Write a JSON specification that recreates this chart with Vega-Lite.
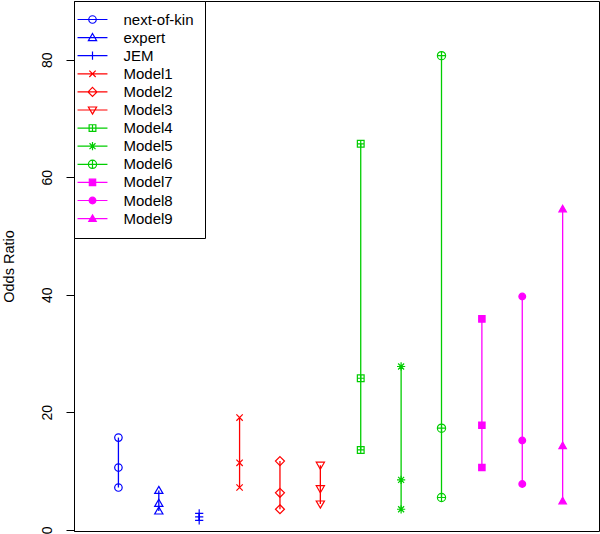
{
  "$schema": "https://vega.github.io/schema/vega-lite/v6.json",
  "width": 525,
  "height": 530,
  "autosize": {"type": "none"},
  "padding": {"left": 74, "top": 1, "right": 1, "bottom": 3},
  "background": "white",
  "config": {
    "font": "Liberation Sans",
    "view": {"stroke": "black", "strokeWidth": 1},
    "axis": {
      "grid": false,
      "domainColor": "black",
      "tickColor": "black",
      "labelColor": "black",
      "titleColor": "black",
      "labelFont": "Liberation Sans",
      "titleFont": "Liberation Sans"
    },
    "legend": {
      "orient": "top-left",
      "offset": 0,
      "padding": 11,
      "strokeColor": "black",
      "fillColor": "white",
      "symbolSize": 56,
      "symbolStrokeWidth": 1.2,
      "labelFontSize": 15,
      "labelFont": "Liberation Sans",
      "labelColor": "black",
      "labelOffset": 23.5,
      "rowPadding": 2.1,
      "title": null
    }
  },
  "data": {
    "values": [
      {"group": "next-of-kin", "lo": 7.2, "est": 10.6, "hi": 15.7},
      {"group": "expert", "lo": 3.2, "est": 4.5, "hi": 6.7},
      {"group": "JEM", "lo": 1.6, "est": 2.2, "hi": 2.8},
      {"group": "Model1", "lo": 7.2, "est": 11.4, "hi": 19.1},
      {"group": "Model2", "lo": 3.5, "est": 6.3, "hi": 11.7},
      {"group": "Model3", "lo": 4.4, "est": 7.0, "hi": 11.0},
      {"group": "Model4", "lo": 13.6, "est": 25.8, "hi": 65.7},
      {"group": "Model5", "lo": 3.5, "est": 8.5, "hi": 27.8},
      {"group": "Model6", "lo": 5.5, "est": 17.3, "hi": 80.7},
      {"group": "Model7", "lo": 10.6, "est": 17.8, "hi": 35.9},
      {"group": "Model8", "lo": 7.8, "est": 15.2, "hi": 39.7},
      {"group": "Model9", "lo": 4.9, "est": 14.3, "hi": 54.6}
    ]
  },
  "resolve": {
    "scale": {"shape": "independent", "stroke": "independent", "fill": "independent"},
    "legend": {"shape": "independent", "stroke": "independent", "fill": "independent"}
  },
  "layer": [
    {
      "mark": {"type": "rule", "strokeWidth": 1.3},
      "encoding": {
        "x": {
          "field": "group", "type": "nominal", "sort": null, "axis": null,
          "scale": {"type": "point", "padding": 1, "align": 0.55,
            "domain": ["next-of-kin","expert","JEM","Model1","Model2","Model3","Model4","Model5","Model6","Model7","Model8","Model9"]}
        },
        "y": {
          "field": "lo", "type": "quantitative", "title": "Odds Ratio",
          "scale": {"domain": [-0.2, 90], "nice": false, "zero": false},
          "axis": {
            "values": [0, 20, 40, 60, 80],
            "tickSize": 8,
            "labelFontSize": 14,
            "labelAngle": 270,
            "labelAlign": "center",
            "labelBaseline": "bottom",
            "labelPadding": 12,
            "titleFontSize": 14.5,
            "titleFontWeight": "normal",
            "titlePadding": 24
          }
        },
        "y2": {"field": "hi"},
        "stroke": {
          "field": "group", "type": "nominal", "legend": null,
          "scale": {
            "domain": ["next-of-kin","expert","JEM","Model1","Model2","Model3","Model4","Model5","Model6","Model7","Model8","Model9"],
            "range": ["#0000FF","#0000FF","#0000FF","#FF0000","#FF0000","#FF0000","#00CD00","#00CD00","#00CD00","#FF00FF","#FF00FF","#FF00FF"]
          }
        }
      }
    },
    {
      "transform": [{"fold": ["lo", "est", "hi"], "as": ["stat", "value"]}],
      "mark": {"type": "point", "opacity": 1, "strokeWidth": 1.2, "size": 56},
      "encoding": {
        "x": {"field": "group", "type": "nominal", "sort": null},
        "y": {"field": "value", "type": "quantitative"},
        "stroke": {
          "field": "group", "type": "nominal", "legend": null,
          "scale": {
            "domain": ["next-of-kin","expert","JEM","Model1","Model2","Model3","Model4","Model5","Model6","Model7","Model8","Model9"],
            "range": ["#0000FF","#0000FF","#0000FF","#FF0000","#FF0000","#FF0000","#00CD00","#00CD00","#00CD00","#FF00FF","#FF00FF","#FF00FF"]
          }
        },
        "fill": {
          "field": "group", "type": "nominal", "legend": null,
          "scale": {
            "domain": ["next-of-kin","expert","JEM","Model1","Model2","Model3","Model4","Model5","Model6","Model7","Model8","Model9"],
            "range": ["transparent","transparent","transparent","transparent","transparent","transparent","transparent","transparent","transparent","#FF00FF","#FF00FF","#FF00FF"]
          }
        },
        "shape": {
          "field": "group", "type": "nominal", "legend": null,
          "scale": {
            "domain": ["next-of-kin","expert","JEM","Model1","Model2","Model3","Model4","Model5","Model6","Model7","Model8","Model9"],
            "range": [
              "M-1,0A1,1,0,1,1,1,0A1,1,0,1,1,-1,0Z",
              "M0,-1.1L1.1,0.8L-1.1,0.8Z",
              "M-1.1,0H1.1M0,-1.1V1.1",
              "M-0.85,-0.85L0.85,0.85M-0.85,0.85L0.85,-0.85",
              "M0,-1.2L1.2,0L0,1.2L-1.2,0Z",
              "M0,1.1L1.1,-0.8L-1.1,-0.8Z",
              "M-0.9,-0.9H0.9V0.9H-0.9ZM-0.9,0H0.9M0,-0.9V0.9",
              "M-1.1,0H1.1M0,-1.1V1.1M-0.8,-0.8L0.8,0.8M-0.8,0.8L0.8,-0.8",
              "M-1.1,0A1.1,1.1,0,1,1,1.1,0A1.1,1.1,0,1,1,-1.1,0ZM-1.1,0H1.1M0,-1.1V1.1",
              "M-0.85,-0.85H0.85V0.85H-0.85Z",
              "M-0.9,0A0.9,0.9,0,1,1,0.9,0A0.9,0.9,0,1,1,-0.9,0Z",
              "M0,-1L1,0.75L-1,0.75Z"
            ]
          }
        }
      }
    },
    {
      "transform": [{"filter": "false"}],
      "mark": {"type": "point", "opacity": 1, "strokeWidth": 1.2, "size": 56},
      "encoding": {
        "stroke": {
          "field": "group", "type": "nominal",
          "scale": {
            "domain": ["next-of-kin","expert","JEM","Model1","Model2","Model3","Model4","Model5","Model6","Model7","Model8","Model9"],
            "range": ["#0000FF","#0000FF","#0000FF","#FF0000","#FF0000","#FF0000","#00CD00","#00CD00","#00CD00","#FF00FF","#FF00FF","#FF00FF"]
          }
        },
        "fill": {
          "field": "group", "type": "nominal",
          "scale": {
            "domain": ["next-of-kin","expert","JEM","Model1","Model2","Model3","Model4","Model5","Model6","Model7","Model8","Model9"],
            "range": ["transparent","transparent","transparent","transparent","transparent","transparent","transparent","transparent","transparent","#FF00FF","#FF00FF","#FF00FF"]
          }
        },
        "shape": {
          "field": "group", "type": "nominal",
          "scale": {
            "domain": ["next-of-kin","expert","JEM","Model1","Model2","Model3","Model4","Model5","Model6","Model7","Model8","Model9"],
            "range": [
              "M-1,0A1,1,0,1,1,1,0A1,1,0,1,1,-1,0ZM-4,0H4",
              "M0,-1.1L1.1,0.8L-1.1,0.8ZM-4,0H4",
              "M-1.1,0H1.1M0,-1.1V1.1M-4,0H4",
              "M-0.85,-0.85L0.85,0.85M-0.85,0.85L0.85,-0.85M-4,0H4",
              "M0,-1.2L1.2,0L0,1.2L-1.2,0ZM-4,0H4",
              "M0,1.1L1.1,-0.8L-1.1,-0.8ZM-4,0H4",
              "M-0.9,-0.9H0.9V0.9H-0.9ZM-0.9,0H0.9M0,-0.9V0.9M-4,0H4",
              "M-1.1,0H1.1M0,-1.1V1.1M-0.8,-0.8L0.8,0.8M-0.8,0.8L0.8,-0.8M-4,0H4",
              "M-1.1,0A1.1,1.1,0,1,1,1.1,0A1.1,1.1,0,1,1,-1.1,0ZM-1.1,0H1.1M0,-1.1V1.1M-4,0H4",
              "M-0.85,-0.85H0.85V0.85H-0.85ZM-4,0H4",
              "M-0.9,0A0.9,0.9,0,1,1,0.9,0A0.9,0.9,0,1,1,-0.9,0ZM-4,0H4",
              "M0,-1L1,0.75L-1,0.75ZM-4,0H4"
            ]
          }
        }
      }
    }
  ]
}
